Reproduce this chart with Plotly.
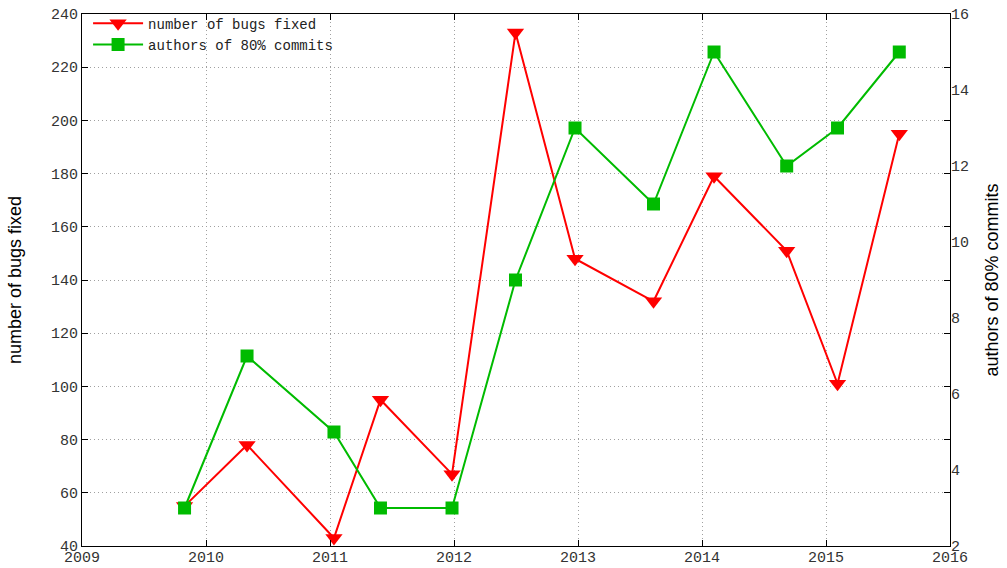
import plotly.graph_objects as go

# Data
release_time = [2009.827, 2010.331, 2011.032, 2011.407, 2011.984, 2012.496,
                2012.976, 2013.609, 2014.097, 2014.683, 2015.093, 2015.591]
bugs_fixed = [55, 78, 43, 95, 67, 233, 148, 132, 179, 151, 101, 195]
authors_80 = [3, 7, 5, 3, 3, 9, 13, 11, 15, 12, 13, 15]

x_ticks = [2009, 2010, 2011, 2012, 2013, 2014, 2015, 2016]

RED = "#ff0000"
GREEN = "#00bb00"
MONO = "Liberation Mono, DejaVu Sans Mono, monospace"
SANS = "Liberation Sans, Arial, sans-serif"
GRID = "#a0a0a0"
GRID_DASH = "1px,3px"

fig = go.Figure()
fig.add_trace(go.Scatter(
    x=release_time, y=bugs_fixed, name="number of bugs fixed",
    mode="lines+markers",
    line=dict(color=RED, width=2),
    marker=dict(symbol="triangle-down", size=15, color=RED),
    yaxis="y",
))
fig.add_trace(go.Scatter(
    x=release_time, y=authors_80, name="authors of 80% commits",
    mode="lines+markers",
    line=dict(color=GREEN, width=2),
    marker=dict(symbol="square", size=13, color=GREEN),
    yaxis="y2",
))

fig.update_layout(
    width=1007, height=568,
    margin=dict(l=82, r=57, t=14, b=22, autoexpand=False),
    paper_bgcolor="white", plot_bgcolor="white",
    font=dict(family=MONO, size=15, color="#333333"),
    showlegend=True,
    legend=dict(
        x=0.007, y=1.012, xanchor="left", yanchor="top",
        bgcolor="rgba(0,0,0,0)", borderwidth=0,
        font=dict(family=MONO, size=14, color="#222222"),
        itemwidth=50, tracegroupgap=0,
    ),
    xaxis=dict(
        range=[2009, 2016], tickvals=x_ticks,
        ticktext=[str(v) for v in x_ticks],
        showline=True, linecolor="black", linewidth=1, mirror="ticks",
        ticks="inside", ticklen=6, tickcolor="black",
        ticklabelstandoff=-3,
        showgrid=True, gridcolor=GRID, griddash=GRID_DASH, gridwidth=1,
        zeroline=False, automargin=False,
    ),
    yaxis=dict(
        range=[40, 240], dtick=20, tick0=40,
        showline=True, linecolor="black", linewidth=1, mirror="ticks",
        ticks="inside", ticklen=6, tickcolor="black",
        showgrid=True, gridcolor=GRID, griddash=GRID_DASH, gridwidth=1,
        zeroline=False, automargin=False,
        title=dict(text="number of bugs fixed",
                   font=dict(family=SANS, size=18, color="black"),
                   standoff=24),
    ),
    yaxis2=dict(
        range=[2, 16], dtick=2, tick0=2,
        overlaying="y", side="right",
        showline=False, ticks="", showgrid=False, zeroline=False,
        automargin=False,
        title=dict(text="authors of 80% commits",
                   font=dict(family=SANS, size=18, color="black"),
                   standoff=17),
    ),
)

fig.write_html("out.html",
               config={"displayModeBar": False},
               post_script="document.body.style.margin='0px';")
